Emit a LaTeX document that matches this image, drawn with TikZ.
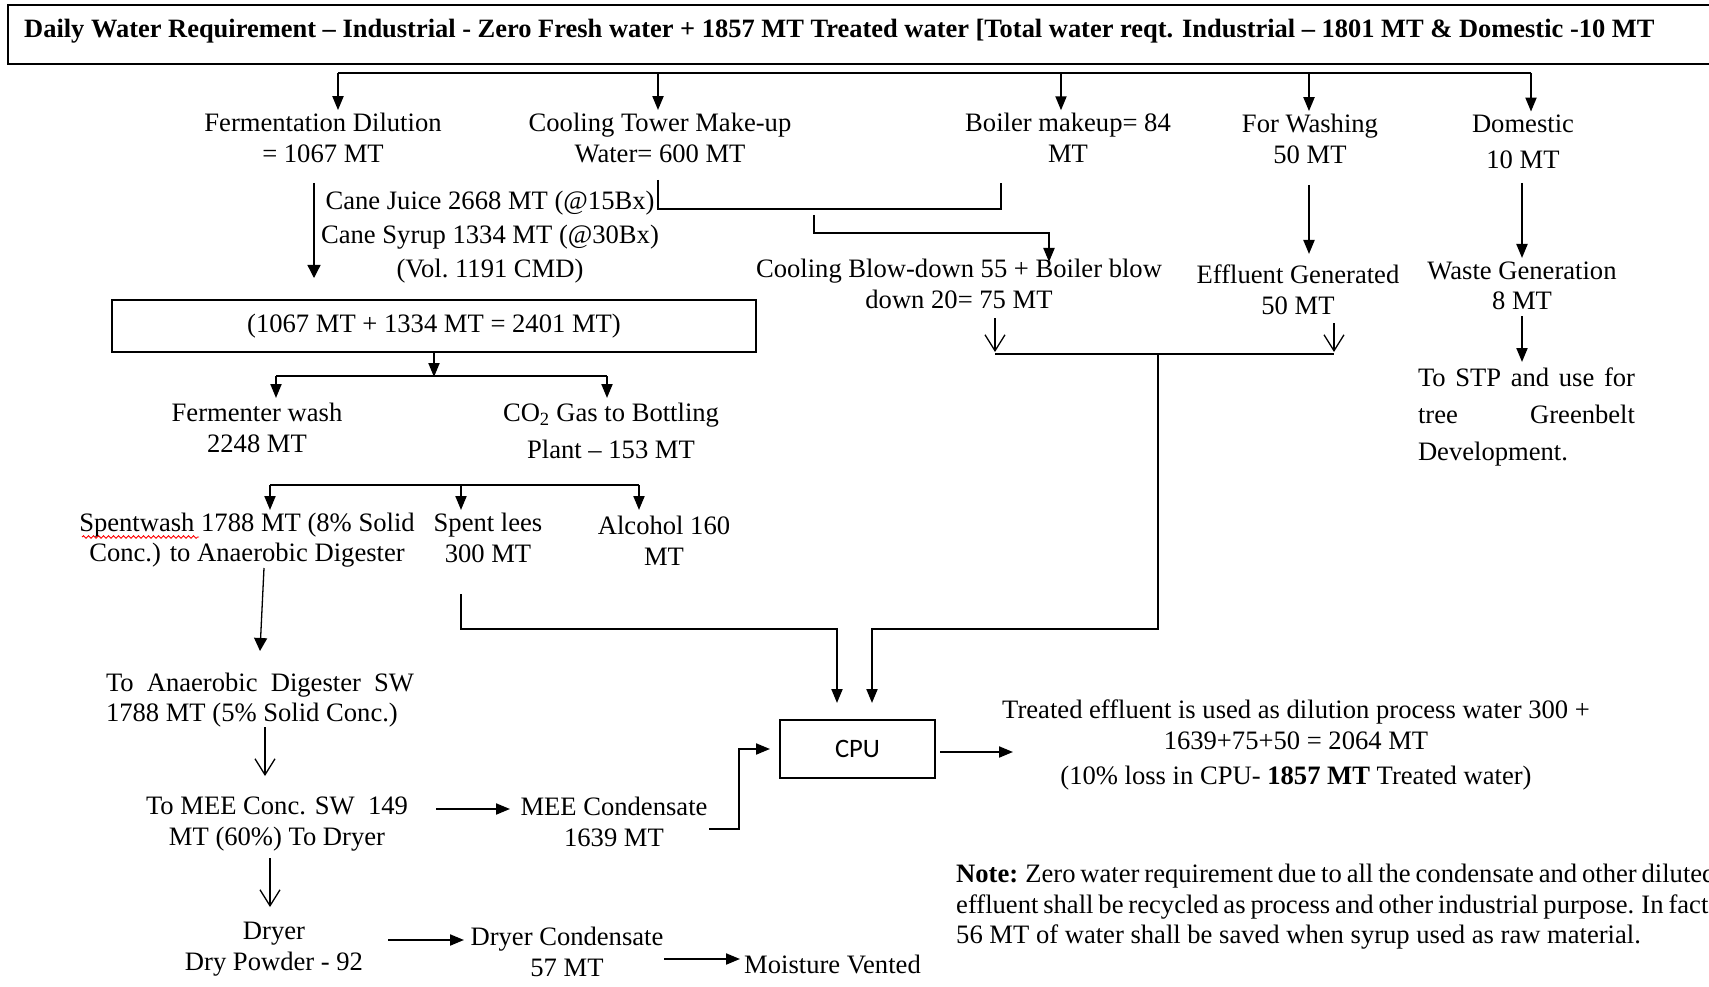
\documentclass[tikz,border=0pt]{standalone}
\usepackage{fontspec}
\setmainfont{Liberation Serif}
\newfontfamily\cpufont{Carlito}
\usetikzlibrary{arrows.meta,decorations.pathmorphing}
\newcommand{\bodyfs}{\fontsize{26.6}{30.6}\selectfont}

\begin{document}
\begin{tikzpicture}[x=1pt,y=-1pt,
  txt/.style={align=center,inner sep=0pt,font=\bodyfs},
  ln/.style={line width=2pt},
  arr/.style={ln,-{Triangle[length=14pt,width=11pt]}},
  tarr/.style={line width=1.3pt,-{Triangle[length=13pt,width=13pt]}},
  varr/.style={line width=1.3pt,-{Straight Barb[length=16pt,width=20pt]}},
  box/.style={draw,line width=2pt,inner sep=0pt}]
\useasboundingbox (0,0) rectangle (1709,987);

% heading
\node[box,anchor=north west,minimum width=1712pt,minimum height=59pt] (titlebox) at (7,4) {};
\node[anchor=west,inner sep=0pt,font=\fontsize{26.45}{30}\selectfont\bfseries] (title) at (24,31)
  {Daily Water Requirement – Industrial - Zero Fresh water + 1857 MT Treated water [Total water reqt. Industrial – 1801 MT \& Domestic -10 MT};

% first row of consumers
\node[txt] (ferm) at (323,138) {Fermentation Dilution\\= 1067 MT};
\node[txt] (ctw)  at (660,138) {Cooling Tower Make-up\\Water= 600 MT};
\node[txt] (boil) at (1068,138) {Boiler makeup= 84\\MT};
\node[txt] (wash) at (1310,139) {For Washing\\50 MT};
\node[txt] (dom)  at (1523,142) {Domestic\\[6pt]10 MT};

% distribution bus
\coordinate (b1) at (338,73);
\coordinate (b2) at (658,73);
\coordinate (b3) at (1061,73);
\coordinate (b4) at (1309,73);
\coordinate (b5) at (1531,73);
\draw[ln] (b1) -- (b5);
\foreach \b/\n in {b1/ferm,b2/ctw,b3/boil,b4/wash,b5/dom}
  \draw[arr,shorten >=3pt] (\b) -- (\b |- \n.north);

% cane juice / syrup
\node[txt,font=\fontsize{26.6}{34}\selectfont] (cane) at (490,237)
  {Cane Juice 2668 MT (@15Bx)\\Cane Syrup 1334 MT (@30Bx)\\(Vol.\ 1191 CMD)};

\node[box,minimum width=644pt,minimum height=52pt,font=\bodyfs] (mix) at (434,326)
  {(1067 MT + 1334 MT = 2401 MT)};

\coordinate (f1) at (314,183);
\draw[tarr] (f1) -- (314,278);

% cooling tower + boiler bracket
\coordinate (c1) at (658,180);
\coordinate (c2) at (1001,183);
\draw[ln] (c1) -- (658,209) -- (1001,209) -- (c2);
\coordinate (c3) at (814,215);
\node[txt] (blow) at (959,284) {Cooling Blow-down 55 + Boiler blow\\down 20= 75 MT};
\draw[arr] (c3) -- (814,233) -- (1049,233) -- (1049,262);

% washing and domestic
\node[txt] (eff)   at (1298,290) {Effluent Generated\\50 MT};
\node[txt] (waste) at (1522,286) {Waste Generation\\8 MT};
\draw[arr] (1309,185) -- (1309,254);
\draw[arr] (1522,183) -- (1522,258);

\node[txt,align=left,font=\fontsize{26.6}{37}\selectfont] (stp) at (1526.5,417)
  {\makebox[217pt][s]{To STP and use for}\\\makebox[217pt][s]{tree Greenbelt}\\Development.};
\draw[arr] (1522,316) -- (1522,362);

% blow-down + effluent to CPU
\coordinate (v1) at (995,318);
\coordinate (v2) at (1334,323);
\draw[varr] (v1) -- (995,352);
\draw[varr] (v2) -- (1334,352);
\draw[ln] (995,354) -- (1334,354);

% fermentation split
\draw[arr] (mix.south) -- ++(0,24);
\draw[ln] (276,376) -- (607,376);
\node[txt] (fwash) at (257,428) {Fermenter wash\\2248 MT};
\node[txt] (co2)   at (611,431) {CO\textsubscript{2} Gas to Bottling\\[6pt]Plant – 153 MT};
\draw[arr] (276,376) -- (276,398);
\draw[arr] (607,376) -- (607,398);

% distillation split
\draw[ln] (270,485) -- (639,485);
\node[txt] (spw)  at (247,540) {Spentwash 1788 MT (8\% Solid\\Conc.) to Anaerobic Digester};
\node[txt] (lees) at (488,538) {Spent lees\\300 MT};
\node[txt] (alc)  at (664,541) {Alcohol 160\\MT};
\draw[arr] (270,485) -- (270,510);
\draw[arr] (461,485) -- (461,510);
\draw[arr] (639,485) -- (639,510);
\draw[red,line width=0.9pt,decorate,decoration={snake,amplitude=1.3pt,segment length=5pt}]
  (82,537) -- (199,537);

% CPU
\node[box,minimum width=155pt,minimum height=58pt,font=\cpufont\fontsize{26.6}{30}\selectfont] (cpu) at (857.5,749) {CPU};
\draw[arr] (461,594) -- (461,629) -- (837,629) -- (837,703);
\draw[arr] (1158,354) -- (1158,629) -- (872,629) -- (872,703);

% spentwash treatment chain
\draw[tarr] (264,568) -- (260,651);
\node[txt,align=left] (ana) at (260,700)
  {\makebox[308pt][s]{To Anaerobic Digester SW}\\1788 MT (5\% Solid Conc.)};
\draw[varr] (265,727) -- (265,776);
\node[txt] (meec) at (277,824) {To MEE Conc. SW\ \ 149\\MT (60\%) To Dryer};
\draw[arr] (436,809) -- (510,809);
\node[txt] (meed) at (614,822) {MEE Condensate\\1639 MT};
\draw[arr] (709,829) -- (739,829) -- (739,749) -- (770,749);

\draw[arr] (940,752) -- (1013,752);
\node[txt] (treat) at (1296,745)
  {Treated effluent is used as dilution process water 300 +\\1639+75+50 = 2064 MT\\[4pt](10\% loss in CPU- \textbf{1857 MT} Treated water)};

\draw[varr] (270,858) -- (270,907);
\node[txt] (dry) at (274,949) {Dryer\\Dry Powder - 92};
\draw[arr] (388,940) -- (464,940);
\node[txt] (dryc) at (567,952) {Dryer Condensate\\57 MT};
\draw[arr] (664,959) -- (740,959);
\node[txt,anchor=west] (moist) at (744,964) {Moisture Vented};

% note (justified paragraph running to the right edge)
\node[txt,anchor=north west,align=left] (note) at (956,864)
  {{\spaceskip=4.9pt\textbf{Note:} Zero water requirement due to all the condensate and other diluted}\\{\spaceskip=4.9pt effluent shall be recycled as process and other industrial purpose. In fact}\\56 MT of water shall be saved when syrup used as raw material.};
\end{tikzpicture}
\end{document}
